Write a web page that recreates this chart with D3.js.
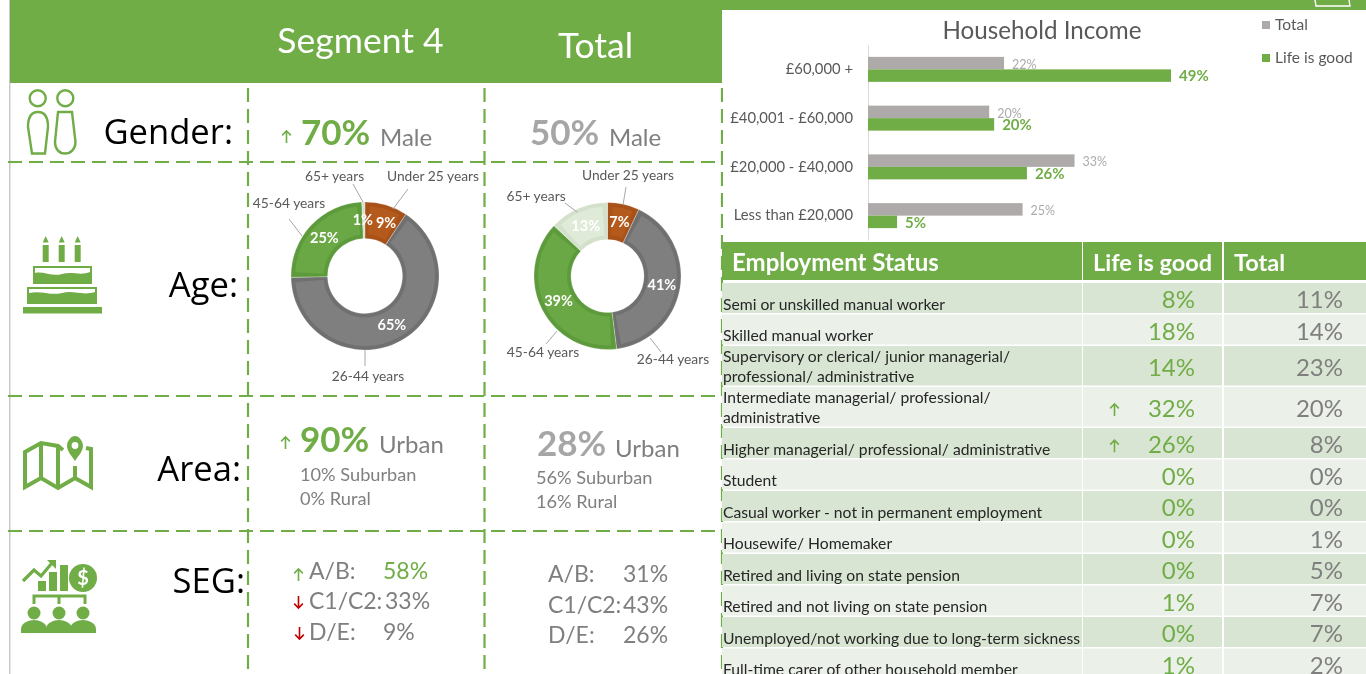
<!DOCTYPE html>
<head>
  <meta charset="utf-8">
  <script src="https://d3js.org/d3.v7.min.js"></script>
  <style>
    body { margin:0; overflow:hidden; background:#fff; }
    svg { display:block; filter:blur(0.4px); }
    text { font-family:Lato, sans-serif; }
  </style>
</head>

<body>
<script type='text/javascript'>
  // household income chart
  var incomeBands = ['£60,000 +', '£40,001 - £60,000', '£20,000 - £40,000', 'Less than £20,000'];
  var incomeTotal = [22, 19.6, 33.4, 25];
  var incomeLife = [49, 20.4, 25.7, 4.7];

  // age donuts
  var ageGroups = ['Under 25 years', '26-44 years', '45-64 years', '65+ years'];
  var ageSegment = [9.3, 65.4, 24.6, 0.7];
  var ageTotal = [7, 41, 39, 13];

  // employment table
  var jobs = [
    'Semi or unskilled manual worker',
    'Skilled manual worker',
    'Supervisory or clerical/ junior managerial/|professional/ administrative',
    'Intermediate managerial/ professional/|administrative',
    'Higher managerial/ professional/ administrative',
    'Student',
    'Casual worker - not in permanent employment',
    'Housewife/ Homemaker',
    'Retired and living on state pension',
    'Retired and not living on state pension',
    'Unemployed/not working due to long-term sickness',
    'Full-time carer of other household member'
  ];
  var jobsLife = [8, 18, 14, 32, 26, 0, 0, 0, 0, 1, 0, 1];
  var jobsTotal = [11, 14, 23, 20, 8, 0, 0, 1, 5, 7, 7, 2];
  var jobsUp = ['Intermediate managerial/ professional/|administrative', 'Higher managerial/ professional/ administrative'];

  var green = '#70ad47', grey = '#7f7f7f', lightGrey = '#a6a6a6', barGrey = '#aeaaaa', dark = '#595959';

  var svg = d3.select('body').append('svg').attr('width', 1366).attr('height', 674);

  function label(x, y, str, size, fill, opts) {
    opts = opts || {};
    return svg.append('text')
      .attr('x', x).attr('y', y)
      .attr('font-size', size)
      .attr('fill', fill)
      .attr('text-anchor', opts.anchor || 'start')
      .attr('font-weight', opts.weight || 400)
      .style('font-family', opts.font || 'Lato, sans-serif')
      .text(str);
  }

  function arrow(x, y1, y2, color) {
    var dir = y2 < y1 ? 1 : -1;
    var w = Math.abs(y2 - y1) * 0.36;
    svg.append('path')
      .attr('d', 'M' + x + ',' + y1 + 'V' + y2 + 'M' + (x - w) + ',' + (y2 + dir * w) + 'L' + x + ',' + y2 + 'L' + (x + w) + ',' + (y2 + dir * w))
      .attr('fill', 'none').attr('stroke', color).attr('stroke-width', 1.6);
  }

  // PANEL BACKGROUND
  svg.append('rect').attr('x', 9).attr('y', 0).attr('width', 1.5).attr('height', 674).attr('fill', '#c9c9c9');
  svg.append('rect').attr('x', 10).attr('y', 0).attr('width', 712).attr('height', 83).attr('fill', green);
  svg.append('rect').attr('x', 722).attr('y', 0).attr('width', 644).attr('height', 10).attr('fill', green);
  svg.append('path').attr('d', 'M1315,0L1316,6H1350L1349,0').attr('fill', 'none').attr('stroke', '#fff').attr('stroke-width', 1.4);

  label(360.5, 53, 'Segment 4', 35.5, '#fff', {anchor: 'middle'});
  label(595.5, 58, 'Total', 35.5, '#fff', {anchor: 'middle'});

  // dashed grid
  [162, 396, 531].forEach(function(y) {
    svg.append('line').attr('x1', 8).attr('x2', 722).attr('y1', y).attr('y2', y)
      .attr('stroke', green).attr('stroke-width', 2.2).attr('stroke-dasharray', '14,7');
  });
  [248, 484.5, 722].forEach(function(x) {
    svg.append('line').attr('x1', x).attr('x2', x).attr('y1', 88).attr('y2', 674)
      .attr('stroke', green).attr('stroke-width', 2.2).attr('stroke-dasharray', '14,7');
  });

  // ROW LABELS
  var rowFont = {anchor: 'end', font: '"Open Sans", sans-serif'};
  label(233, 144, 'Gender:', 34.6, '#000', rowFont);
  label(238, 297, 'Age:', 34.6, '#000', rowFont);
  label(241, 481, 'Area:', 34.6, '#000', rowFont);
  label(245, 593, 'SEG:', 34.6, '#000', rowFont);

  // ICONS
  var gender = svg.append('g').attr('fill', 'none').attr('stroke', green).attr('stroke-width', 2.4);
  gender.append('circle').attr('cx', 37.7).attr('cy', 98.3).attr('r', 8);
  gender.append('circle').attr('cx', 65.3).attr('cy', 98.3).attr('r', 8);
  gender.append('path').attr('d', 'M32,153.5H45L48,127C48,116 44,112 38,112C32,112 28,116 28,127Z');
  gender.append('path').attr('d', 'M58,112H72L75.5,142C75.5,149 71,153.5 65,153.5C59,153.5 55,149 55,142Z');

  var cake = svg.append('g').attr('fill', green);
  [45.7, 61.7, 77.7].forEach(function(x) {
    cake.append('rect').attr('x', x - 3).attr('y', 245).attr('width', 6).attr('height', 17);
    cake.append('path').attr('d', 'M' + (x - 3) + ',242.5L' + x + ',236L' + (x + 3) + ',242.5Z');
  });
  cake.append('path').attr('d', 'M34,267H91V283H34Z').attr('stroke', green).attr('stroke-width', 2);
  cake.append('path').attr('d', 'M35,268H90V272C80,276 72,271 62,274C52,277 44,271 35,273Z').attr('fill', '#fff');
  cake.append('path').attr('d', 'M28,288H96V303H28Z').attr('stroke', green).attr('stroke-width', 2);
  cake.append('path').attr('d', 'M29,289H95V292C82,296 74,290 62,293C50,296 42,290 29,293Z').attr('fill', '#fff');
  cake.append('rect').attr('x', 23).attr('y', 307).attr('width', 79).attr('height', 6.5);

  var map = svg.append('g').attr('fill', 'none').attr('stroke', green).attr('stroke-width', 4);
  map.append('path').attr('d', 'M63,450L58,446L41,443L25,452V487L41,478L58,488L75,478L91,487V449L86,448M41,443V478M58,446V488M75,466V478');
  svg.append('path').attr('d', 'M75,461C71,455 67,451 67,446C67,441 71,436 75,436C79,436 83,441 83,446C83,451 79,455 75,461Z').attr('fill', green);
  svg.append('circle').attr('cx', 75).attr('cy', 445.5).attr('r', 3.4).attr('fill', '#fff');

  var seg = svg.append('g').attr('fill', green);
  seg.append('path').attr('d', 'M23,581L34,570L41,576L52,563').attr('fill', 'none').attr('stroke', green).attr('stroke-width', 3.2);
  seg.append('path').attr('d', 'M47,560H56V569Z');
  seg.append('rect').attr('x', 38).attr('y', 581).attr('width', 8).attr('height', 10);
  seg.append('rect').attr('x', 49).attr('y', 572).attr('width', 8).attr('height', 19);
  seg.append('rect').attr('x', 60).attr('y', 565).attr('width', 8).attr('height', 26);
  seg.append('circle').attr('cx', 83).attr('cy', 578).attr('r', 14);
  label(83, 585, '$', 20, '#fff', {anchor: 'middle', weight: 700});
  seg.append('path').attr('d', 'M34,604V596H85V604M59,596V604').attr('fill', 'none').attr('stroke', green).attr('stroke-width', 3);
  [34, 59, 83].forEach(function(x) {
    seg.append('circle').attr('cx', x).attr('cy', 613).attr('r', 6.5);
    seg.append('path').attr('d', 'M' + (x - 13) + ',633V629C' + (x - 13) + ',623 ' + (x - 5) + ',620 ' + x + ',620C' + (x + 5) + ',620 ' + (x + 13) + ',623 ' + (x + 13) + ',629V633Z');
  });

  // GENDER
  arrow(286.5, 143, 131, green);
  label(301, 145, '70%', 35, green, {weight: 700});
  label(380, 146, 'Male', 24, grey);
  label(530, 145, '50%', 35, lightGrey, {weight: 700});
  label(609, 146, 'Male', 24, grey);

  // DONUTS
  var ageColors = d3.scaleOrdinal().domain(ageGroups).range(['#b55a1d', '#7f7f7f', '#6aa845', '#e0ead9']);
  var ageEdges = d3.scaleOrdinal().domain(ageGroups).range(['#a85219', '#707070', '#5d9a3c', '#d3e0ca']);
  var pie = d3.pie().sort(null);
  var pctRound = function(d) { return Math.round(d) + '%'; };

  function donut(values, cx, cy, r0, r1, names) {
    var g = svg.append('g').attr('transform', 'translate(' + cx + ',' + cy + ')');
    var arc = d3.arc().innerRadius(r0).outerRadius(r1);
    var slices = pie(values);

    g.selectAll('path.edge').data(slices).enter().append('path')
      .attr('class', 'edge')
      .attr('d', arc)
      .attr('fill', function(d, i) { return ageEdges(ageGroups[i]); });

    // slightly lighter inner part, gives the bevelled look of the original
    var inset = 4 / ((r0 + r1) / 2);
    g.selectAll('path.face').data(slices).enter().append('path')
      .attr('class', 'face')
      .attr('d', function(d) {
        if (d.endAngle - d.startAngle < inset * 2) return null;
        return d3.arc().innerRadius(r0 + 4).outerRadius(r1 - 4)
          .startAngle(d.startAngle + inset).endAngle(d.endAngle - inset)();
      })
      .attr('fill', function(d, i) { return ageColors(ageGroups[i]); });

    g.selectAll('path.gap').data(slices).enter().append('path')
      .attr('class', 'gap')
      .attr('d', arc)
      .attr('fill', 'none').attr('stroke', '#fff').attr('stroke-opacity', 0.25).attr('stroke-width', 0.8);

    g.selectAll('text.pct').data(slices).enter().append('text')
      .attr('class', 'pct')
      .attr('transform', function(d) {
        var c = arc.centroid(d);
        return 'translate(' + c[0] + ',' + c[1] + ')';
      })
      .attr('dx', function(d, i) { return names.nudge[i]; })
      .attr('dy', 5)
      .attr('text-anchor', 'middle')
      .attr('font-size', 14.5)
      .attr('font-weight', 700)
      .attr('fill', '#fff')
      .text(function(d) { return pctRound(d.data); });

    // category labels with leader lines
    ageGroups.forEach(function(name, i) {
      var p = names.spots[i];
      label(p[0], p[1] + 4.5, name, 13.8, dark, {anchor: 'middle'});
      svg.append('line')
        .attr('x1', p[2]).attr('y1', p[3]).attr('x2', p[4]).attr('y2', p[5])
        .attr('stroke', '#a6a6a6').attr('stroke-width', 1);
    });
  }

  donut(ageSegment, 365, 276, 37.5, 74, {
    nudge: [5, 0, 0, -1],
    spots: [[433, 176, 408, 189, 393, 209], [368, 376, 365, 350, 365, 366], [289, 203, 289, 219, 302, 236], [334.5, 176, 353, 184, 363, 202]]
  });
  donut(ageTotal, 607.5, 276, 36.5, 73.5, {
    nudge: [0, 0, 0, 0],
    spots: [[628, 175, 626, 187, 623, 205], [673, 359, 661, 352, 650, 338], [543, 352, 546, 344, 557, 331], [536, 196, 565, 203, 577, 212]]
  });

  // AREA
  arrow(285.5, 449, 437, green);
  label(300, 452, '90%', 35, green, {weight: 700});
  label(379, 453, 'Urban', 24, grey);
  label(300, 481, '10% Suburban', 18.2, grey);
  label(300, 505, '0% Rural', 18.2, grey);
  label(537, 456, '28%', 35, lightGrey, {weight: 700});
  label(615, 457, 'Urban', 24, grey);
  label(536, 484, '56% Suburban', 18.2, grey);
  label(536, 508, '16% Rural', 18.2, grey);

  // SEG
  arrow(298.5, 581, 569, green);
  arrow(298.5, 596, 608, '#c00000');
  arrow(299.5, 627, 639, '#c00000');
  label(309, 579, 'A/B:', 23, grey);
  label(383, 579, '58%', 23, green);
  label(309, 609, 'C1/C2:', 23, grey);
  label(385, 609, '33%', 23, grey);
  label(309, 640, 'D/E:', 23, grey);
  label(383, 640, '9%', 23, grey);
  label(548, 582, 'A/B:', 23, grey);
  label(623, 582, '31%', 23, grey);
  label(548, 613, 'C1/C2:', 23, grey);
  label(623, 613, '43%', 23, grey);
  label(548, 643, 'D/E:', 23, grey);
  label(623, 643, '26%', 23, grey);

  // HOUSEHOLD INCOME BARS
  svg.append('rect').attr('x', 723).attr('y', 10).attr('width', 643).attr('height', 231).attr('fill', '#fff');
  label(1042, 39, 'Household Income', 24.2, dark, {anchor: 'middle'});

  var xScale = d3.scaleLinear().domain([0, 49]).range([868, 1171]);
  var yScale = d3.scaleBand().domain(incomeBands).range([45, 240]);
  var barHeight = 12.5;

  var yAxis = d3.axisLeft(yScale).tickSize(0).tickPadding(15);
  var axis = svg.append('g').attr('transform', 'translate(868,0)').call(yAxis);
  axis.select('.domain').attr('stroke', '#d9d9d9');
  axis.selectAll('text').attr('font-size', 14.8).attr('fill', dark).style('font-family', 'Lato, sans-serif');

  svg.selectAll('rect.total').data(incomeTotal).enter().append('rect')
    .attr('class', 'total')
    .attr('x', xScale(0))
    .attr('y', function(d, i) { return yScale(incomeBands[i]) + yScale.bandwidth() / 2 - barHeight; })
    .attr('width', function(d) { return xScale(d) - xScale(0); })
    .attr('height', barHeight)
    .attr('fill', barGrey);

  svg.selectAll('text.totalVal').data(incomeTotal).enter().append('text')
    .attr('class', 'totalVal')
    .attr('x', function(d) { return xScale(d) + 8; })
    .attr('y', function(d, i) { return yScale(incomeBands[i]) + yScale.bandwidth() / 2 - 0.5; })
    .attr('font-size', 12.5)
    .attr('fill', barGrey)
    .text(function(d) { return pctRound(d); });

  svg.selectAll('rect.life').data(incomeLife).enter().append('rect')
    .attr('class', 'life')
    .attr('x', xScale(0))
    .attr('y', function(d, i) { return yScale(incomeBands[i]) + yScale.bandwidth() / 2; })
    .attr('width', function(d) { return xScale(d) - xScale(0); })
    .attr('height', barHeight)
    .attr('fill', green);

  svg.selectAll('text.lifeVal').data(incomeLife).enter().append('text')
    .attr('class', 'lifeVal')
    .attr('x', function(d) { return xScale(d) + 8; })
    .attr('y', function(d, i) { return yScale(incomeBands[i]) + yScale.bandwidth() / 2 + 12; })
    .attr('font-size', 15)
    .attr('font-weight', 700)
    .attr('fill', green)
    .text(function(d) { return pctRound(d); });

  // legend
  svg.append('rect').attr('x', 1262).attr('y', 21).attr('width', 8).attr('height', 8).attr('fill', barGrey);
  label(1275, 30, 'Total', 15.5, dark);
  svg.append('rect').attr('x', 1262).attr('y', 54).attr('width', 8).attr('height', 8).attr('fill', green);
  label(1275, 63, 'Life is good', 15.5, dark);

  // EMPLOYMENT TABLE
  var cols = [[722, 360], [1083, 139], [1224, 142]];
  cols.forEach(function(c) {
    svg.append('rect').attr('x', c[0]).attr('y', 242).attr('width', c[1]).attr('height', 38).attr('fill', green);
  });
  label(732, 271, 'Employment Status', 24, '#fff', {weight: 700});
  label(1093, 271, 'Life is good', 23.5, '#fff', {weight: 700});
  label(1234, 271, 'Total', 23.5, '#fff', {weight: 700});

  var rowTop = 283;
  jobs.forEach(function(job, i) {
    var lines = job.split('|');
    var h = lines.length > 1 ? 41 : 31.5;
    var fill = i % 2 === 0 ? '#d9e5d3' : '#ebf0e9';
    if (i === 5) fill = '#ebf0e9';
    cols.forEach(function(c) {
      svg.append('rect').attr('x', c[0]).attr('y', rowTop).attr('width', c[1]).attr('height', h - 1.5).attr('fill', fill);
    });
    lines.forEach(function(line, j) {
      var y = lines.length > 1 ? rowTop + 15.5 + j * 20.5 : rowTop + 26.5;
      label(723, y, line, 15.7, '#262626');
    });
    var mid = rowTop + h / 2 + 9.5;
    label(1195, mid, jobsLife[i] + '%', 24, green, {anchor: 'end'});
    label(1343, mid, jobsTotal[i] + '%', 24, grey, {anchor: 'end'});
    if (jobsUp.indexOf(job) > -1) arrow(1114.5, mid - 1, mid - 13, green);
    rowTop += h;
  });
</script>
</body>
